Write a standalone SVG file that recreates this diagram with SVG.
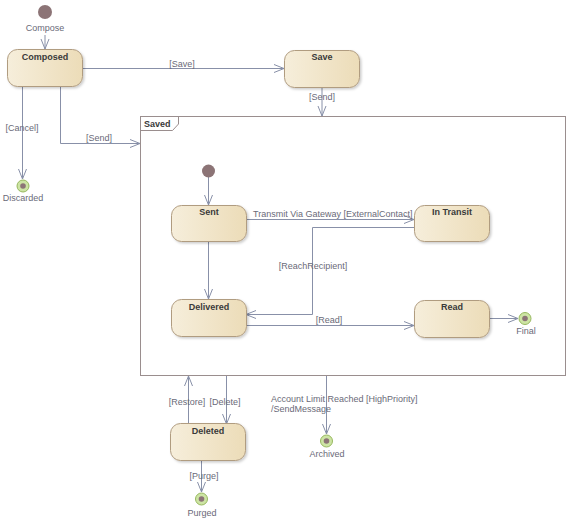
<svg xmlns="http://www.w3.org/2000/svg" width="572" height="527" viewBox="0 0 572 527">
<style>
.st{fill:url(#g);stroke:#b09c80;stroke-width:1}
.nm{font-family:"Liberation Sans",Arial,sans-serif;font-size:9px;font-weight:bold;fill:#3a3a3a;text-anchor:middle}
.lb{font-family:"Liberation Sans",Arial,sans-serif;font-size:9px;fill:#6a6a78}
.c{fill:none;stroke:#8890a8;stroke-width:1;marker-end:url(#a)}
.init{fill:#8c7476}
.fo{fill:#cde4a4;stroke:#97b85e;stroke-width:1}
.fi{fill:#8c7476}
</style>
<defs>
<linearGradient id="g" x1="0" y1="0" x2="1" y2="0">
<stop offset="0" stop-color="#f6eedb"/>
<stop offset="1" stop-color="#ecdcb8"/>
</linearGradient>
<filter id="sh" x="-10%" y="-10%" width="130%" height="140%">
<feDropShadow dx="1.5" dy="1.5" stdDeviation="1" flood-color="#000" flood-opacity="0.2"/>
</filter>
<marker id="a" viewBox="0 0 10 10" refX="10" refY="5" markerWidth="10" markerHeight="10" orient="auto" markerUnits="userSpaceOnUse">
<path d="M0,1 L10,5 L0,9" fill="none" stroke="#8890a8" stroke-width="1"/>
</marker>
</defs>
<rect width="572" height="527" fill="#fff"/>

<g id="saved">
<rect x="140.5" y="116.5" width="425" height="259" fill="none" stroke="#9a8e8e" stroke-width="1"/>
<path d="M140.5,130.5 H172.5 L178.5,124 V116.5" fill="none" stroke="#9a8e8e" stroke-width="1"/>
<text x="144" y="127" class="nm" style="text-anchor:start">Saved</text>
</g>

<g id="connectors">
<path class="c" d="M45,35 V49"/>
<path class="c" d="M82,68.5 H284"/>
<path class="c" d="M322,87 V116"/>
<path class="c" d="M22.5,86 V179"/>
<path class="c" d="M60.5,86 V143.5 H140"/>
<path class="c" d="M208.5,177 V205"/>
<path class="c" d="M246,219.5 H414"/>
<path class="c" d="M414,227.5 H312.5 V314.5 H246"/>
<path class="c" d="M208.5,241 V299"/>
<path class="c" d="M246,325.5 H414"/>
<path class="c" d="M490,318.5 H518"/>
<path class="c" d="M188.5,424 V376"/>
<path class="c" d="M226.5,376 V424"/>
<path class="c" d="M326.5,376 V434"/>
<path class="c" d="M201.5,461 V492"/>
<text class="lb" x="182" y="67" style="text-anchor:middle">[Save]</text>
<text class="lb" x="322" y="100" style="text-anchor:middle">[Send]</text>
<text class="lb" x="22" y="131" style="text-anchor:middle">[Cancel]</text>
<text class="lb" x="99" y="141" style="text-anchor:middle">[Send]</text>
<text class="lb" x="253" y="217">Transmit Via Gateway [ExternalContact]</text>
<text class="lb" x="313" y="269" style="text-anchor:middle">[ReachRecipient]</text>
<text class="lb" x="329" y="323" style="text-anchor:middle">[Read]</text>
<text class="lb" x="187" y="405" style="text-anchor:middle">[Restore]</text>
<text class="lb" x="225" y="405" style="text-anchor:middle">[Delete]</text>
<text class="lb" x="271" y="402">Account Limit Reached [HighPriority]</text>
<text class="lb" x="271" y="412">/SendMessage</text>
<text class="lb" x="204" y="479" style="text-anchor:middle">[Purge]</text>
</g>

<g id="initial">
<circle class="init" cx="45" cy="12" r="7"/>
<text class="lb" x="45" y="31" style="text-anchor:middle">Compose</text>
</g>
<g id="composed">
<rect class="st" x="7.5" y="49.5" width="75" height="37" rx="10" filter="url(#sh)"/>
<text class="nm" x="45" y="60">Composed</text>
</g>
<g id="save">
<rect class="st" x="284.5" y="50.5" width="75" height="37" rx="10" filter="url(#sh)"/>
<text class="nm" x="322" y="60">Save</text>
</g>
<g id="discarded">
<circle class="fo" cx="23" cy="186" r="6"/>
<circle class="fi" cx="23" cy="186" r="2.8"/>
<text class="lb" x="23" y="201" style="text-anchor:middle">Discarded</text>
</g>
<g id="inner-initial">
<circle class="init" cx="208.5" cy="171" r="6.5"/>
</g>
<g id="sent">
<rect class="st" x="171.5" y="205.5" width="75" height="36" rx="10" filter="url(#sh)"/>
<text class="nm" x="209" y="215">Sent</text>
</g>
<g id="intransit">
<rect class="st" x="414.5" y="205.5" width="75" height="36" rx="10" filter="url(#sh)"/>
<text class="nm" x="452" y="215">In Transit</text>
</g>
<g id="delivered">
<rect class="st" x="171.5" y="299.5" width="75" height="37" rx="10" filter="url(#sh)"/>
<text class="nm" x="209" y="310">Delivered</text>
</g>
<g id="read">
<rect class="st" x="414.5" y="300.5" width="75" height="37" rx="10" filter="url(#sh)"/>
<text class="nm" x="452" y="310">Read</text>
</g>
<g id="final">
<circle class="fo" cx="525" cy="318.5" r="6"/>
<circle class="fi" cx="525" cy="318.5" r="2.8"/>
<text class="lb" x="526" y="334" style="text-anchor:middle">Final</text>
</g>
<g id="deleted">
<rect class="st" x="170.5" y="423.5" width="75" height="37" rx="10" filter="url(#sh)"/>
<text class="nm" x="208" y="434">Deleted</text>
</g>
<g id="archived">
<circle class="fo" cx="326.5" cy="441" r="6"/>
<circle class="fi" cx="326.5" cy="441" r="2.8"/>
<text class="lb" x="327" y="457" style="text-anchor:middle">Archived</text>
</g>
<g id="purged">
<circle class="fo" cx="201.5" cy="499" r="6"/>
<circle class="fi" cx="201.5" cy="499" r="2.8"/>
<text class="lb" x="202" y="516" style="text-anchor:middle">Purged</text>
</g>
</svg>
